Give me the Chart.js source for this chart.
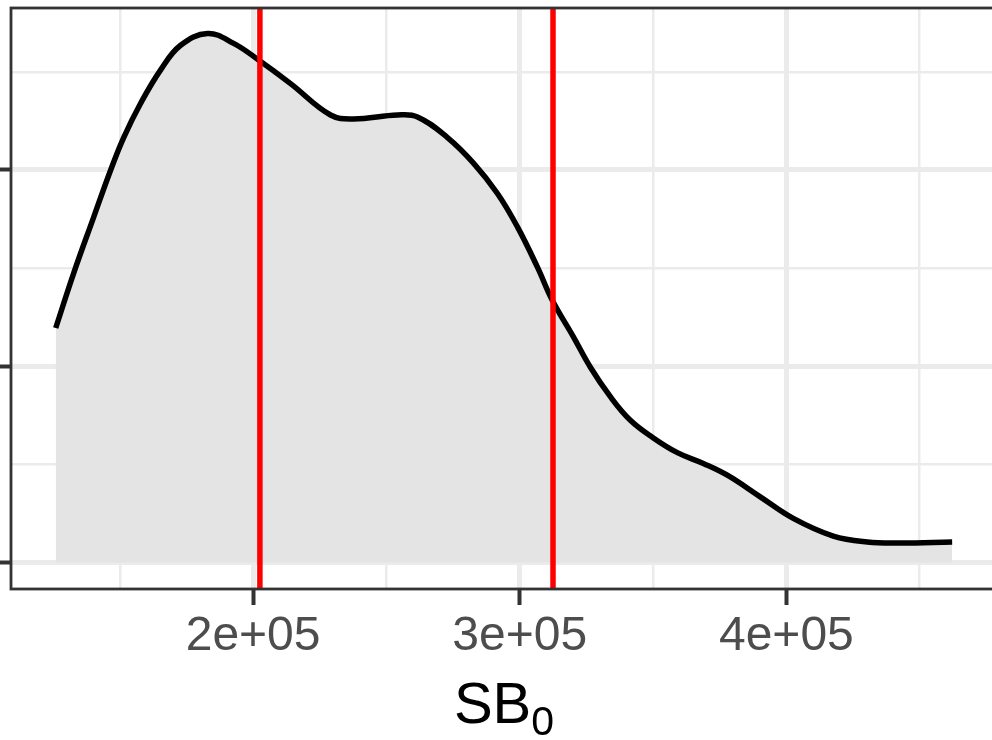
<!DOCTYPE html>
<html>
<head>
<meta charset="utf-8">
<script src="https://cdn.jsdelivr.net/npm/chart.js@4"></script>
<style>
  html, body { margin: 0; padding: 0; background: #fff; overflow: hidden; }
  #wrap { position: absolute; left: -30px; top: 0; width: 1040px; height: 740px; }
</style>
</head>
<body>
<div id="wrap"><canvas id="densityChart"></canvas></div>
<script>
// SB0 values (x) and kernel density (y, in units of 1e-6)
const sbValues = [125975, 132722, 140218, 146589, 151462, 157834, 165330, 172827,
  182946, 192691, 202062, 214055, 229048, 237669, 254160, 261657, 272901, 282646,
  291642, 299138, 306634, 312256, 320127, 326499, 333995, 341492, 350112, 359108,
  368853, 377849, 390217, 402586, 417579, 430322, 442691, 462181];
const densityE6 = [2.39, 2.95, 3.52, 4.00, 4.33, 4.68, 5.02, 5.27,
  5.39, 5.29, 5.12, 4.88, 4.56, 4.52, 4.56, 4.54, 4.33, 4.07,
  3.76, 3.42, 3.01, 2.67, 2.30, 1.99, 1.69, 1.45, 1.27, 1.12,
  1.01, 0.89, 0.67, 0.45, 0.27, 0.21, 0.20, 0.21];

// reference lines (red verticals)
const vlines = [202550, 312480];

// axis ticks
const xMajorTicks = [200000, 300000, 400000];
const xMajorLabels = ['2e+05', '3e+05', '4e+05'];
const xMinorTicks = [150000, 250000, 350000, 450000];
const yMajorTicks = [0, 2, 4];
const yMinorTicks = [1, 3, 5];

const xMin = 109200, xMax = 479000;
const yMin = -0.269, yMax = 5.65;

const gridColor = '#ebebeb';
const axisDark = '#333333';
const font = "'Liberation Sans', Arial, sans-serif";

const densityPoints = sbValues.map((x, i) => ({ x: x, y: densityE6[i] }));

const vlineSets = vlines.map(v => ({
  data: [{ x: v, y: yMin }, { x: v, y: yMax }],
  borderColor: '#ff0000',
  borderWidth: 5.5,
  pointRadius: 0,
  fill: false,
  order: 0
}));

const isMajorX = v => xMajorTicks.includes(v);
const isMajorY = v => yMajorTicks.includes(v);

// panel border + axis title with subscript
const panelFrame = {
  id: 'panelFrame',
  afterDraw(chart) {
    const { ctx, chartArea: a } = chart;
    ctx.save();
    ctx.strokeStyle = axisDark;
    ctx.lineWidth = 2.8;
    ctx.strokeRect(a.left, a.top, a.right - a.left, a.bottom - a.top);

    ctx.fillStyle = '#000000';
    ctx.textBaseline = 'alphabetic';
    ctx.textAlign = 'left';
    ctx.font = '58px ' + font;
    const mainW = ctx.measureText('SB').width;
    ctx.font = '41px ' + font;
    const subW = ctx.measureText('0').width;
    const cx = (a.left + a.right) / 2;
    const x0 = cx - (mainW + subW) / 2;
    ctx.font = '58px ' + font;
    ctx.fillText('SB', x0, 723);
    ctx.font = '41px ' + font;
    ctx.fillText('0', x0 + mainW, 735);
    ctx.restore();
  }
};

new Chart(document.getElementById('densityChart').getContext('2d'), {
  type: 'line',
  data: {
    datasets: [{
      data: densityPoints,
      borderColor: '#000000',
      borderWidth: 5.5,
      backgroundColor: '#e4e4e4',
      fill: 'origin',
      pointRadius: 0,
      tension: 0.4,
      order: 1
    }, ...vlineSets]
  },
  options: {
    responsive: true,
    maintainAspectRatio: false,
    animation: false,
    layout: { padding: { top: 8, right: 13, left: 0, bottom: 0 } },
    plugins: {
      legend: { display: false },
      tooltip: { enabled: false }
    },
    scales: {
      x: {
        type: 'linear',
        min: xMin,
        max: xMax,
        afterBuildTicks: scale => {
          scale.ticks = xMinorTicks.concat(xMajorTicks).sort((a, b) => a - b).map(v => ({ value: v }));
        },
        afterFit: scale => { scale.height = 151; },
        border: { display: false },
        grid: {
          color: gridColor,
          lineWidth: c => isMajorX(c.tick.value) ? 5 : 2.5,
          tickColor: c => isMajorX(c.tick.value) ? axisDark : 'rgba(0,0,0,0)',
          tickWidth: 4,
          tickLength: 16
        },
        ticks: {
          padding: 3,
          color: '#4d4d4d',
          font: { family: font, size: 48 },
          maxRotation: 0,
          autoSkip: false,
          callback: v => {
            const i = xMajorTicks.indexOf(v);
            return i >= 0 ? xMajorLabels[i] : '';
          }
        }
      },
      y: {
        type: 'linear',
        min: yMin,
        max: yMax,
        afterBuildTicks: scale => {
          scale.ticks = yMinorTicks.concat(yMajorTicks).sort((a, b) => a - b).map(v => ({ value: v }));
        },
        afterFit: scale => { scale.width = 41; },
        border: { display: false },
        grid: {
          color: gridColor,
          lineWidth: c => isMajorY(c.tick.value) ? 5 : 2.5,
          tickColor: c => isMajorY(c.tick.value) ? axisDark : 'rgba(0,0,0,0)',
          tickWidth: 4,
          tickLength: 16
        },
        ticks: { display: false }
      }
    }
  },
  plugins: [panelFrame]
});
</script>
</body>
</html>
